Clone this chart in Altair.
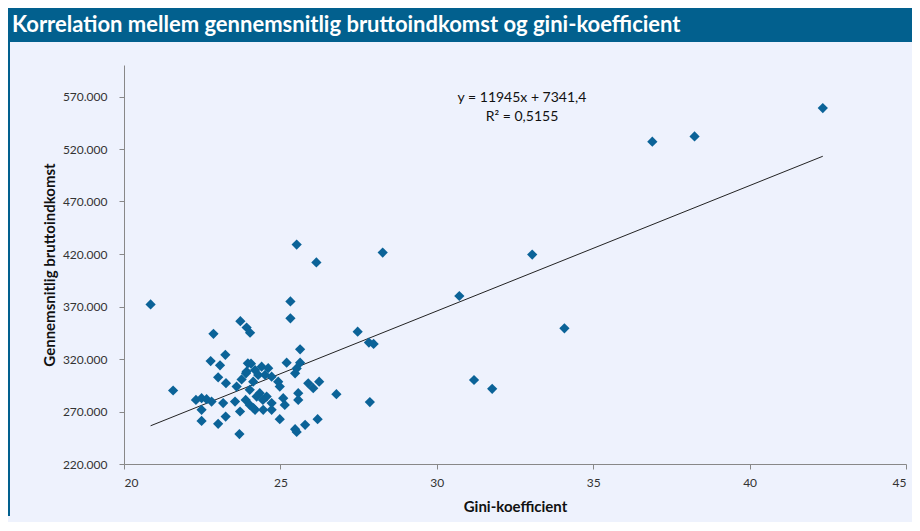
import altair as alt
import pandas as pd

# Gini coefficient (x) and average gross income in DKK (y)
gini = [20.85, 21.57, 22.30, 22.48, 22.64, 22.80, 22.48, 22.48, 22.86, 22.77,
        23.07, 23.24, 23.01, 23.26, 23.01, 23.25, 23.17, 23.55, 23.71, 23.69,
        23.72, 23.92, 24.03, 23.60, 23.76, 23.90, 23.96, 24.06, 24.19, 24.40,
        24.61, 24.29, 24.51, 24.72, 24.13, 24.93, 24.98, 24.02, 24.34, 24.56,
        24.24, 23.89, 24.72, 25.09, 25.14, 25.57, 25.57, 25.89, 26.05, 26.24,
        24.19, 24.45, 24.72, 24.02, 24.98, 25.79, 26.19, 25.47, 25.52, 25.63,
        25.20, 25.63, 25.47, 25.32, 25.32, 25.52, 26.15, 26.79, 27.47, 27.83,
        27.98, 27.86, 28.27, 30.72, 31.19, 31.77, 33.05, 34.08, 36.89, 38.24,
        42.34, 24.44, 25.52, 24.14, 23.92]
income = [372000, 290000, 281000, 282700, 281700, 279500, 271600, 261000, 344000, 318000,
          314000, 324000, 302600, 297000, 258300, 265200, 278000, 279500, 270000, 248500,
          356000, 350000, 345000, 293700, 300500, 306400, 315900, 315500, 309500, 312700,
          311200, 304800, 304800, 303200, 298400, 298400, 293700, 290600, 287400, 284200,
          284200, 281000, 278000, 282700, 276300, 287400, 281000, 296900, 292200, 298400,
          271600, 271600, 271600, 276300, 262700, 257300, 262700, 253200, 250500, 329200,
          316500, 316500, 306400, 374800, 358700, 429000, 412000, 286500, 346000, 335600,
          334300, 279000, 421400, 380000, 300000, 291600, 419500, 349200, 527000, 532000,
          559000, 281000, 311000, 273200, 308000]

# Trend line as stated on the chart: y = 11945x + 7341,4
trend_slope = 11945
trend_intercept = 7341.4
equation_lines = ["y = 11945x + 7341,4", "R² = 0,5155"]

x_ticks = [20, 25, 30, 35, 40, 45]
y_ticks = [220000, 270000, 320000, 370000, 420000, 470000, 520000, 570000]

title_text = "Korrelation mellem gennemsnitlig bruttoindkomst og gini-koefficient"

HEADER = "#02608E"
BG = "#EEF2FD"
MARK = "#0B6398"
FONT = "Lato"

df = pd.DataFrame({"gini": gini, "income": income})
gx = [min(gini), max(gini)]
trend_df = pd.DataFrame({"gini": gx,
                         "income": [trend_slope * v + trend_intercept for v in gx]})

W, H = 782, 399

xscale = alt.Scale(domain=[20, 45], nice=False, zero=False)
yscale = alt.Scale(domain=[220000, 600000], nice=False, zero=False)

xaxis = alt.Axis(values=x_ticks, title="Gini-koefficient", grid=False,
                 tickSize=5, labelPadding=8, titlePadding=11,
                 labelFontSize=12, titleFontSize=15)
yaxis = alt.Axis(values=y_ticks, title="Gennemsnitlig bruttoindkomst", grid=False,
                 tickSize=5, labelPadding=12, titlePadding=5,
                 labelFontSize=12, titleFontSize=15,
                 labelExpr="replace(format(datum.value, ','), ',', '.')")

points = alt.Chart(df).mark_point(shape="diamond", filled=True, size=105,
                                   color=MARK, opacity=1).encode(
    x=alt.X("gini:Q", scale=xscale, axis=xaxis),
    y=alt.Y("income:Q", scale=yscale, axis=yaxis),
)

trend = alt.Chart(trend_df).mark_line(color="#222222", strokeWidth=1).encode(
    x=alt.X("gini:Q", scale=xscale, axis=xaxis),
    y=alt.Y("income:Q", scale=yscale, axis=yaxis),
)

eq_df = pd.DataFrame({"t": ["\n".join(equation_lines)]})
equation = alt.Chart(eq_df).mark_text(font=FONT, fontSize=14, color="#111111",
                                      align="center", baseline="middle",
                                      lineBreak="\n", lineHeight=19).encode(
    text="t:N", x=alt.value(398), y=alt.value(33),
)

header = alt.Chart(pd.DataFrame({"t": [title_text]})).mark_rect(color=HEADER).encode(
    x=alt.value(-116), x2=alt.value(788), y=alt.value(-57), y2=alt.value(-23))
header_text = alt.Chart(pd.DataFrame({"t": [title_text]})).mark_text(
    font=FONT, fontSize=22, fontWeight="bold", color="white",
    align="left", baseline="middle").encode(
    text="t:N", x=alt.value(-112), y=alt.value(-40))
border = alt.Chart(pd.DataFrame({"t": [title_text]})).mark_rule(
    color=HEADER, strokeWidth=2).encode(
    x=alt.value(-115), y=alt.value(-23), y2=alt.value(451))

chart = alt.layer(header, border, header_text, trend, points, equation).properties(
    width=W, height=H,
    autosize=alt.AutoSizeParams(type="none"),
    padding={"left": 116, "top": 57, "right": 6, "bottom": 58},
    background=BG,
).configure_view(stroke=None).configure_axis(
    grid=False,
    domainColor="#888888", tickColor="#888888", labelColor="#333333",
    titleColor="#111111", labelFont=FONT, titleFont=FONT, titleFontWeight="bold",
)

chart.save("out.html", embed_options={"renderer": "svg", "actions": False})
